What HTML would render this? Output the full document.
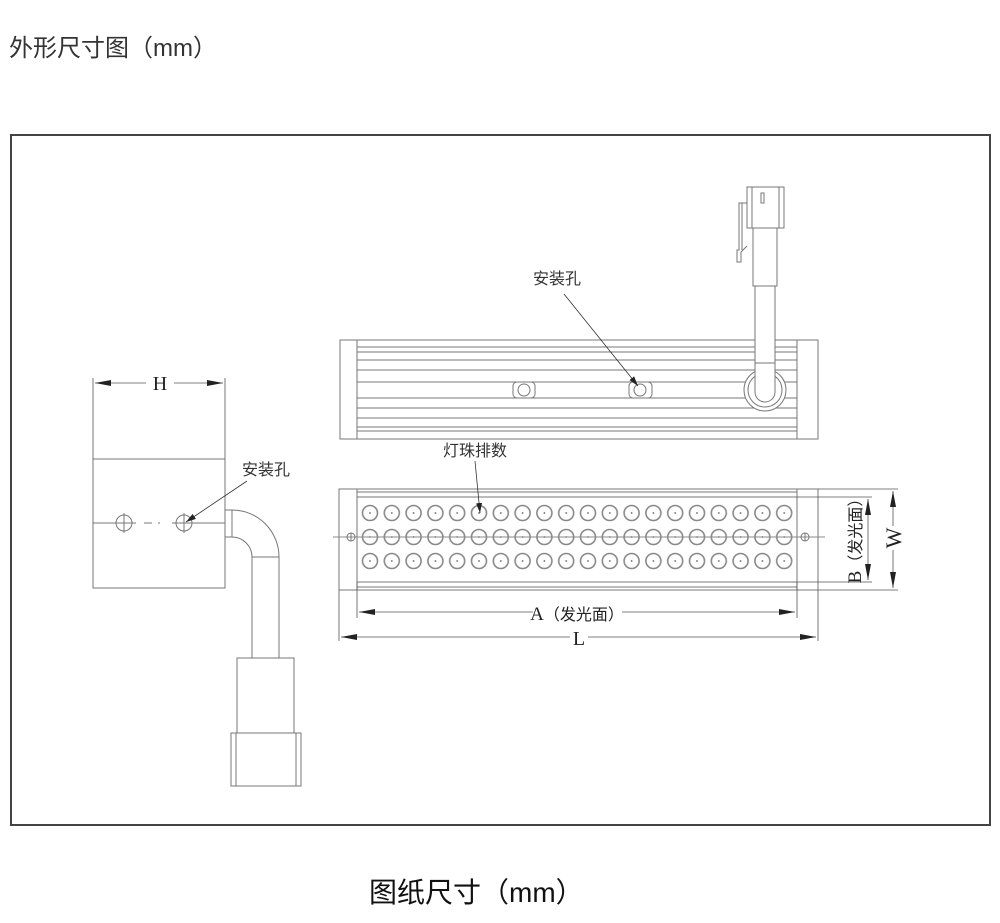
<!DOCTYPE html>
<html><head><meta charset="utf-8"><style>
html,body{margin:0;padding:0;background:#fff;width:1000px;height:923px;overflow:hidden}
svg{display:block}
text{font-family:"Liberation Sans","Noto Sans CJK SC",sans-serif}
.s{font-family:"Liberation Serif","Noto Serif CJK SC",serif}
</style></head><body>
<svg width="1000" height="923" viewBox="0 0 1000 923" xmlns="http://www.w3.org/2000/svg">
<defs>
<marker id="ar" viewBox="0 0 10 6" refX="10" refY="3" markerWidth="10" markerHeight="6" orient="auto-start-reverse" markerUnits="userSpaceOnUse"><path d="M0,0 L10,3 L0,6 z" fill="#222"/></marker>
<marker id="ar2" viewBox="0 0 16 6" refX="16" refY="3" markerWidth="16" markerHeight="6" orient="auto-start-reverse" markerUnits="userSpaceOnUse"><path d="M0,0 L16,3 L0,6 z" fill="#222"/></marker>
<pattern id="led" patternUnits="userSpaceOnUse" x="359.1" y="501" width="21.8" height="24">
<circle cx="10.9" cy="12" r="7.5" fill="#fff" stroke="#888" stroke-width="1.6"/>
<circle cx="10.9" cy="12" r="0.9" fill="#666"/>
</pattern>
</defs>
<text x="9" y="56" font-size="24" fill="#333">外形尺寸图（mm）</text>
<rect x="11" y="135" width="979" height="690" fill="none" stroke="#444" stroke-width="2"/>

<g fill="none" stroke="#777" stroke-width="1">
<!-- top view -->
<rect x="340" y="340" width="478" height="99"/>
<line x1="357" y1="340" x2="357" y2="439"/><line x1="797" y1="340" x2="797" y2="439"/>
<line x1="357" y1="347" x2="797" y2="347"/><line x1="357" y1="352" x2="797" y2="352"/>
<line x1="357" y1="360" x2="797" y2="360"/><line x1="357" y1="370" x2="797" y2="370"/>
<line x1="357" y1="382" x2="745" y2="382"/><line x1="785" y1="382" x2="797" y2="382"/>
<line x1="357" y1="398" x2="745" y2="398"/><line x1="785" y1="398" x2="797" y2="398"/>
<line x1="357" y1="408" x2="797" y2="408"/><line x1="357" y1="418" x2="797" y2="418"/>
<line x1="357" y1="427" x2="797" y2="427"/><line x1="357" y1="431" x2="797" y2="431"/>
<rect x="513" y="382" width="22" height="16" rx="4" fill="#fff"/><circle cx="524" cy="390" r="6"/>
<rect x="629" y="382" width="23" height="16" rx="4" fill="#fff"/><circle cx="640" cy="390" r="6"/>
<circle cx="765" cy="390" r="21" fill="#fff"/><circle cx="765" cy="390" r="17"/>
<path d="M755,286 V392 A10,10 0 0 0 775,392 V286" fill="#fff"/>
<line x1="755" y1="363" x2="775" y2="363"/>
<path d="M753,228 V286 H777 V228"/>
<rect x="747" y="187" width="37" height="41" fill="#fff"/>
<path d="M752,187 V196 M779,187 V196 M752,196 V228 M779,196 V228"/>
<rect x="761" y="193" width="3" height="10"/>
<path d="M747,203 H739 V250 H737 V262 H741 V252 L747,246"/>
<path d="M742,203 V250"/>

<!-- front view -->
<rect x="339" y="489" width="479" height="101"/>
<rect x="357" y="497" width="440" height="85"/>
<line x1="357" y1="492" x2="797" y2="492"/><line x1="357" y1="587" x2="797" y2="587"/>
<line x1="357" y1="489" x2="357" y2="497"/><line x1="797" y1="489" x2="797" y2="497"/>
<line x1="357" y1="582" x2="357" y2="590"/><line x1="797" y1="582" x2="797" y2="590"/>
</g>
<rect x="359.1" y="501" width="436" height="72" fill="url(#led)"/>
<g fill="none" stroke="#777" stroke-width="1">
<line x1="333" y1="537" x2="825" y2="537" stroke="#888"/>
<circle cx="351" cy="537" r="4"/><line x1="351" y1="533" x2="351" y2="541"/>
<circle cx="805" cy="537" r="4"/><line x1="805" y1="533" x2="805" y2="541"/>
</g>

<!-- dims front -->
<g stroke="#555" stroke-width="0.8" fill="none">
<line x1="357" y1="582" x2="357" y2="618"/><line x1="797" y1="582" x2="797" y2="618"/>
<line x1="339" y1="590" x2="339" y2="641"/><line x1="818" y1="590" x2="818" y2="641"/>
<line x1="359" y1="612" x2="533" y2="612" marker-start="url(#ar2)"/><line x1="622" y1="612" x2="795" y2="612" marker-end="url(#ar2)"/>
<line x1="341" y1="637" x2="570" y2="637" marker-start="url(#ar2)"/><line x1="588" y1="637" x2="816" y2="637" marker-end="url(#ar2)"/>
<line x1="797" y1="497" x2="872" y2="497"/><line x1="797" y1="582" x2="872" y2="582"/>
<line x1="818" y1="489" x2="898" y2="489"/><line x1="818" y1="590" x2="898" y2="590"/>
<line x1="868" y1="499" x2="868" y2="580" marker-start="url(#ar2)" marker-end="url(#ar2)"/>
<line x1="893" y1="491" x2="893" y2="526" marker-start="url(#ar2)"/><line x1="893" y1="550" x2="893" y2="588" marker-end="url(#ar2)"/>
</g>
<text x="577" y="620" font-size="19" text-anchor="middle" fill="#222"><tspan class="s">A</tspan><tspan font-size="16">（发光面）</tspan></text>
<text x="579" y="645" font-size="20" text-anchor="middle" fill="#222" class="s">L</text>
<text transform="translate(861,537) rotate(-90)" font-size="19" text-anchor="middle" fill="#222"><tspan class="s">B</tspan><tspan font-size="16">（发光面）</tspan></text>
<text transform="translate(901,538) rotate(-90)" font-size="22" text-anchor="middle" fill="#222" class="s">W</text>

<!-- labels top -->
<text x="533" y="284" font-size="16" fill="#333">安装孔</text>
<line x1="564" y1="294" x2="638" y2="386" stroke="#333" stroke-width="0.8" marker-end="url(#ar)"/>
<text x="443" y="456" font-size="16" fill="#333">灯珠排数</text>
<line x1="475" y1="461" x2="480" y2="513" stroke="#333" stroke-width="0.8" marker-end="url(#ar)"/>

<!-- side view -->
<g fill="none" stroke="#777" stroke-width="1">
<rect x="93" y="459" width="132" height="129"/>
<line x1="93" y1="378" x2="93" y2="459"/><line x1="225" y1="378" x2="225" y2="459"/>
<line x1="93" y1="523" x2="136" y2="523"/><line x1="144" y1="523" x2="160" y2="523" stroke-dasharray="8,6"/><line x1="172" y1="523" x2="225" y2="523"/>
<circle cx="124" cy="523" r="8"/><line x1="124" y1="513" x2="124" y2="533"/>
<circle cx="184" cy="523" r="8"/><line x1="184" y1="513" x2="184" y2="533"/>
<path d="M225,510 H232 A47,47 0 0 1 279,557 V658"/>
<path d="M225,537 H232 A20,20 0 0 1 252,557 V658"/>
<line x1="232" y1="510" x2="232" y2="537"/>
<line x1="252" y1="557" x2="279" y2="557"/>
<rect x="237" y="658" width="57" height="75"/>
<rect x="231" y="733" width="70" height="53"/>
<line x1="236" y1="733" x2="236" y2="786"/><line x1="296" y1="733" x2="296" y2="786"/>
</g>
<g stroke="#555" stroke-width="0.8">
<line x1="95" y1="383" x2="146" y2="383" marker-start="url(#ar2)"/><line x1="174" y1="383" x2="223" y2="383" marker-end="url(#ar2)"/>
</g>
<text x="160" y="390" font-size="20" text-anchor="middle" fill="#222" class="s">H</text>
<text x="242" y="475" font-size="16" fill="#333">安装孔</text>
<line x1="247" y1="481" x2="186" y2="522" stroke="#333" stroke-width="0.8" marker-end="url(#ar)"/>

<text x="369" y="902" font-size="28" fill="#111">图纸尺寸（mm）</text>
</svg>
</body></html>
